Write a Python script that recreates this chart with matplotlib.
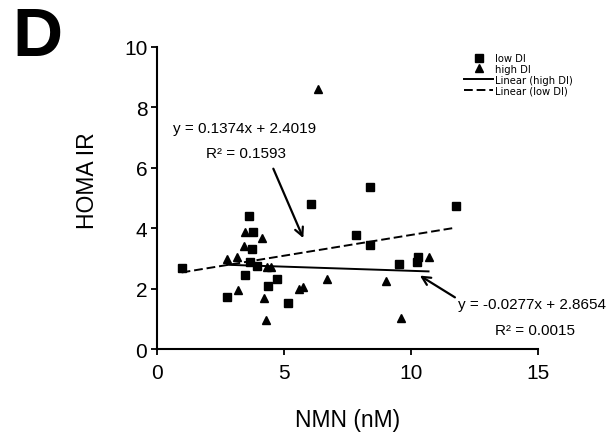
import matplotlib
matplotlib.use('Agg')
import matplotlib.pyplot as plt
from matplotlib.lines import Line2D
import numpy as np

plt.rcParams['font.family'] = ['Liberation Sans', 'DejaVu Sans']

# low DI (squares)
low_x = [0.97, 2.74, 3.48, 3.62, 3.65, 3.75, 3.78, 3.95, 4.37, 4.72, 5.16,
         6.08, 7.82, 8.40, 8.40, 9.51, 10.22, 10.29, 11.76]
low_y = [2.67, 1.73, 2.44, 4.40, 2.89, 3.31, 3.87, 2.76, 2.10, 2.31, 1.51,
         4.81, 3.78, 5.35, 3.45, 2.81, 2.88, 3.06, 4.74]

# high DI (triangles)
high_x = [2.77, 3.14, 3.20, 3.44, 3.45, 4.12, 4.20, 4.29, 4.34, 4.48, 5.58,
          5.74, 6.35, 6.69, 9.00, 9.62, 10.69]
high_y = [2.99, 3.03, 1.96, 3.40, 3.87, 3.67, 1.68, 0.95, 2.70, 2.70, 2.00,
          2.05, 8.62, 2.33, 2.25, 1.03, 3.06]

# linear fits as printed on the chart: slope, intercept
fit_low = [0.1374, 2.4019]
fit_high = [-0.0277, 2.8654]
r2_low = 0.1593
r2_high = 0.0015


def fit_line(xs, coef):
    xr = np.array([min(xs), max(xs)])
    return xr, coef[0] * xr + coef[1]


fig = plt.figure(figsize=(6.14, 4.35), dpi=100)
ax = fig.add_axes([0.2557, 0.1954, 0.6205, 0.6943])

ax.plot(low_x, low_y, 's', color='black', markersize=5.4, linestyle='none')
ax.plot(high_x, high_y, '^', color='black', markersize=5.2, linestyle='none')

lx, ly = fit_line(low_x, fit_low)
hx, hy = fit_line(high_x, fit_high)
ax.plot(hx, hy, '-', color='black', lw=1.4)
ax.plot(lx, ly, color='black', lw=1.4, dashes=(4.5, 2))

ax.set_xlim(0, 15)
ax.set_ylim(0, 10)
ax.set_xticks([0, 5, 10, 15])
ax.set_yticks([0, 2, 4, 6, 8, 10])
for s in ['top', 'right']:
    ax.spines[s].set_visible(False)
for s in ['left', 'bottom']:
    ax.spines[s].set_linewidth(1.5)
ax.tick_params(axis='both', direction='out', length=4, width=1.3,
               labelsize=15)
ax.tick_params(axis='x', pad=6)
ax.tick_params(axis='y', pad=3)

ax.set_xlabel('NMN (nM)', fontsize=16.5)
ax.set_ylabel('HOMA IR', fontsize=16.5)
ax.xaxis.set_label_coords(0.5, -0.195)
ax.yaxis.set_label_coords(-0.152, 0.56)

# equations and arrows
ax.text(3.44, 7.32, 'y = %.4fx + %.4f' % (fit_low[0], fit_low[1]),
        ha='center', va='center', fontsize=11)
ax.text(3.52, 6.49, 'R² = %.4f' % r2_low, ha='center', va='center',
        fontsize=11)
ax.text(14.76, 1.49, 'y = %.4fx + %.4f' % (fit_high[0], fit_high[1]),
        ha='center', va='center', fontsize=11, clip_on=False)
ax.text(14.88, 0.63, 'R² = %.4f' % r2_high, ha='center', va='center',
        fontsize=11, clip_on=False)

arrow = dict(arrowstyle='->,head_length=0.6,head_width=0.3', color='black',
             lw=1.6, shrinkA=0, shrinkB=0)
ax.annotate('', xy=(5.76, 3.67), xytext=(4.58, 5.97), arrowprops=arrow)
ax.annotate('', xy=(10.35, 2.43), xytext=(11.73, 1.71), arrowprops=arrow,
            annotation_clip=False)

handles = [
    Line2D([], [], marker='s', color='black', linestyle='none', markersize=5.4),
    Line2D([], [], marker='^', color='black', linestyle='none', markersize=5.2),
    Line2D([], [], color='black', lw=1.4),
    Line2D([], [], color='black', lw=1.4, dashes=(4.5, 2)),
]
labels = ['low DI', 'high DI', 'Linear (high DI)', 'Linear (low DI)']
fig.legend(handles, labels, loc='upper left',
           bbox_to_anchor=(464 / 614, 1 - 54 / 435),
           frameon=False, prop={'family': 'DejaVu Sans', 'size': 7.2},
           handlelength=2.9, handletextpad=0.2, labelspacing=0.08,
           borderpad=0, borderaxespad=0)

fig.text(12 / 614, 1 - 6 / 435, 'D', fontsize=50, fontweight='bold',
         ha='left', va='top')

fig.savefig('out.png', dpi=100)
